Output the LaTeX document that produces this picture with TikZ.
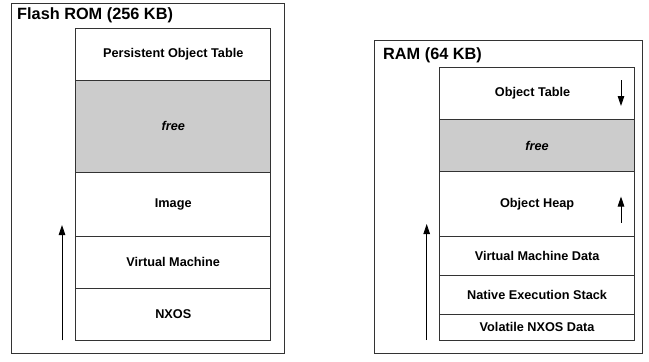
\documentclass[tikz,border=0pt]{standalone}
\usepackage{fontspec}
\setmainfont{Liberation Sans}
\usetikzlibrary{arrows.meta}
\definecolor{freegray}{HTML}{CCCCCC}
\definecolor{linegray}{HTML}{333333}
\tikzset{
  outerbox/.style={draw=linegray, line width=0.9pt, fill=white},
  rowbox/.style={draw=linegray, line width=0.9pt, anchor=north west, inner sep=0pt,
    minimum width=#1, font=\fontsize{12.7pt}{14pt}\selectfont\bfseries},
  freebox/.style={fill=freegray},
  titletext/.style={anchor=west, inner sep=0pt, font=\fontsize{16.3pt}{18pt}\selectfont\bfseries},
  growarrow/.style={line width=0.9pt, -{Triangle[length=10pt,width=6.5pt]}},
}
\begin{document}
\begin{tikzpicture}[x=1pt,y=-1pt]
\useasboundingbox (0,0) rectangle (649,362);
% Flash ROM
\node[outerbox, anchor=north west, inner sep=0pt, minimum width=272.5pt, minimum height=349.7pt] (romouter) at (11,3) {};
\node[titletext] (romtitle) at (17,15) {Flash ROM (256 KB)};
\node[rowbox=195pt, minimum height=51.7pt] (pot) at (75.3,28.3) {Persistent Object Table};
\node[rowbox=195pt, freebox, minimum height=91.7pt] (romfree) at (75.3,80) {\itshape free};
\node[rowbox=195pt, minimum height=64.3pt] (image) at (75.3,171.7) {Image};
\node[rowbox=195pt, minimum height=52pt] (vm) at (75.3,236) {Virtual Machine};
\node[rowbox=195pt, minimum height=52.3pt] (nxos) at (75.3,288) {NXOS};
\coordinate (romA) at (62,340.3);
\coordinate (romB) at (62,225);
\draw[growarrow] (romA) -- (romB);
% RAM
\node[outerbox, anchor=north west, inner sep=0pt, minimum width=267.5pt, minimum height=313pt] (ramouter) at (374,40) {};
\node[titletext] (ramtitle) at (383,55) {RAM (64 KB)};
\node[rowbox=194.7pt, minimum height=52.6pt] (ot) at (439.3,66.7) {\hspace*{-9pt}Object Table};
\node[rowbox=194.7pt, freebox, minimum height=51.7pt] (ramfree) at (439.3,119.3) {\itshape free};
\node[rowbox=194.7pt, minimum height=64.7pt] (oh) at (439.3,171) {Object Heap};
\node[rowbox=194.7pt, minimum height=39.3pt] (vmd) at (439.3,235.7) {Virtual Machine Data};
\node[rowbox=194.7pt, minimum height=39pt] (nes) at (439.3,275) {Native Execution Stack};
\node[rowbox=194.7pt, minimum height=26pt] (vnd) at (439.3,314) {Volatile NXOS Data};
\coordinate (ramA) at (426.7,340);
\coordinate (ramB) at (426.7,224);
\draw[growarrow] (ramA) -- (ramB);
\coordinate (otA) at (621,80);
\coordinate (otB) at (621,106);
\draw[growarrow] (otA) -- (otB);
\coordinate (ohA) at (621,222.7);
\coordinate (ohB) at (621,196.5);
\draw[growarrow] (ohA) -- (ohB);
\end{tikzpicture}
\end{document}
